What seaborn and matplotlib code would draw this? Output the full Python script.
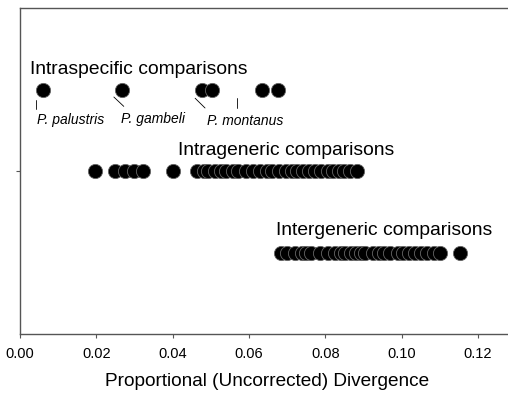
import matplotlib
matplotlib.use("Agg")
import matplotlib.pyplot as plt
import seaborn as sns
import pandas as pd

# Data (proportional uncorrected divergence)
intraspecific = [0.0060, 0.0267, 0.0477, 0.0503, 0.0634, 0.0676]
intrageneric = [0.0197, 0.0249, 0.0275, 0.0300, 0.0322, 0.0401,
                0.0465, 0.0482, 0.0494, 0.0512, 0.0527, 0.0541, 0.0558,
                0.0572, 0.0593, 0.0610, 0.0628, 0.0647, 0.0661, 0.0679,
                0.0698, 0.0712, 0.0726, 0.0743, 0.0757, 0.0772, 0.0790,
                0.0806, 0.0821, 0.0836, 0.0850, 0.0866, 0.0883]
intergeneric = [0.0685, 0.0700, 0.0722, 0.0738, 0.0750, 0.0762, 0.0785,
                0.0808, 0.0825, 0.0840, 0.0852, 0.0868, 0.0880, 0.0893,
                0.0905, 0.0925, 0.0942, 0.0955, 0.0970, 0.0990, 0.1003,
                0.1020, 0.1035, 0.1052, 0.1068, 0.1085, 0.1100, 0.1153]
groups = ["Intraspecific comparisons", "Intrageneric comparisons", "Intergeneric comparisons"]
group_levels = [3, 2, 1]
species = ["P. palustris", "P. gambeli", "P. montanus"]
xticks = [0.00, 0.02, 0.04, 0.06, 0.08, 0.10, 0.12]

rows = []
for vals, lvl in zip([intraspecific, intrageneric, intergeneric], group_levels):
    for v in vals:
        rows.append({"div": v, "level": lvl})
df = pd.DataFrame(rows)

sns.set_style("white")
plt.rcParams['font.family'] = ['Liberation Sans', 'DejaVu Sans']
plt.rcParams['text.color'] = 'black'
plt.rcParams['xtick.color'] = '#555555'
plt.rcParams['ytick.color'] = '#555555'
plt.rcParams['xtick.labelcolor'] = 'black'
plt.rcParams['axes.labelcolor'] = 'black'

fig = plt.figure(figsize=(5.08, 3.95), dpi=100)
# axes extends past the right edge of the figure (no right frame visible)
ax = fig.add_axes([20/508, 61/395, 520/508, 326/395])

sns.scatterplot(data=df, x="div", y="level", ax=ax, s=105, color="black",
                edgecolor="#666666", linewidth=0.6, legend=False, zorder=3)

ax.set_xlim(0, 0.1279 * 520 / 488)
ax.set_ylim(0, 4.01)
ax.set_xticks(xticks)
ax.set_xticklabels([f"{t:.2f}" for t in xticks], fontsize=10.5)
ax.set_yticks([2])
ax.set_yticklabels([""])
ax.tick_params(axis="x", bottom=True, direction="out", length=3, width=0.8, color="#555555", pad=6)
ax.tick_params(axis="y", left=True, direction="out", length=3, width=0.8, color="#555555")
for side in ["left", "bottom", "top"]:
    ax.spines[side].set_color("#555555")
    ax.spines[side].set_linewidth(1.0)
ax.spines["right"].set_visible(False)
ax.set_xlabel("Proportional (Uncorrected) Divergence", fontsize=13.7)
ax.xaxis.set_label_coords((267 - 20) / 520, -48 / 326)
ax.xaxis.label.set_va("center")
ax.set_ylabel("")

# group labels
ax.text(0.0026, 3.25, groups[0], fontsize=13.9, va="center", ha="left")
ax.text(0.0414, 2.26, groups[1], fontsize=13.9, va="center", ha="left")
ax.text(0.0671, 1.27, groups[2], fontsize=13.9, va="center", ha="left")

# species labels with pointer lines
ax.text(0.0045, 2.63, species[0], fontsize=10, style="italic", va="center", ha="left")
ax.text(0.0265, 2.64, species[1], fontsize=10, style="italic", va="center", ha="left")
ax.text(0.0490, 2.62, species[2], fontsize=10, style="italic", va="center", ha="left")
lk = dict(color="black", lw=0.6)
ax.plot([0.0042, 0.0042], [2.88, 2.77], **lk)
ax.plot([0.0246, 0.0272], [2.915, 2.80], **lk)
ax.plot([0.0459, 0.0485], [2.90, 2.78], **lk)
ax.plot([0.0569, 0.0569], [2.90, 2.78], **lk)

fig.savefig("out.png", dpi=100)
